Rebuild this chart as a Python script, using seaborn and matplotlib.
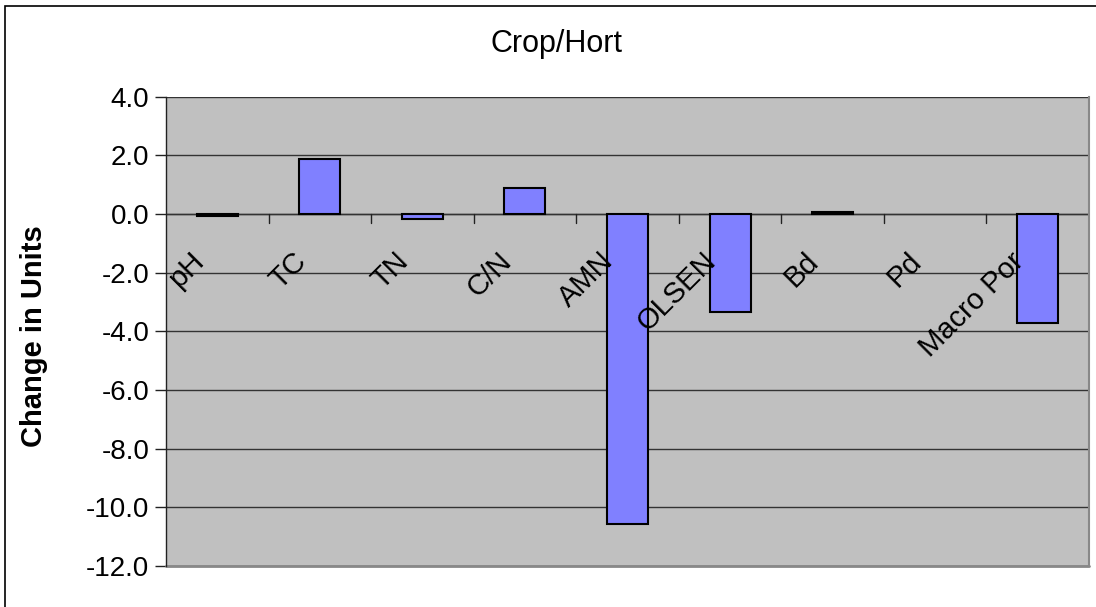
import numpy as np
import pandas as pd
import matplotlib
matplotlib.use("Agg")
import matplotlib.pyplot as plt
import seaborn as sns
from matplotlib.patches import Rectangle
from matplotlib.ticker import FormatStrFormatter, MultipleLocator

# values
categories = ["pH", "TC", "TN", "C/N", "AMN", "OLSEN", "Bd", "Pd", "Macro Por"]
changes = [-0.08, 1.89, -0.17, 0.88, -10.58, -3.35, 0.07, 0.0, -3.71]

sns.set_style("white")
plt.rcParams["font.family"] = ["Liberation Sans", "DejaVu Sans"]
plt.rcParams["text.color"] = "black"
plt.rcParams["axes.labelcolor"] = "black"
plt.rcParams["ytick.color"] = "black"

df = pd.DataFrame({"param": categories, "change": changes})

fig = plt.figure(figsize=(10.96, 6.07), dpi=100)
ax = fig.add_axes([166 / 1096, 1 - 566 / 607, 923 / 1096, (566 - 96.7) / 607])
ax.set_facecolor("#C0C0C0")

sns.barplot(data=df, x="param", y="change", order=categories, color="#8080FF",
            saturation=1, edgecolor="black", linewidth=1.5, width=0.4, ax=ax, zorder=3)
# excel draws nothing for a zero value
for p in ax.patches:
    if p.get_height() == 0:
        p.set_visible(False)

ax.set_ylim(-12, 4)
ax.set_xlim(-0.5, len(categories) - 0.5)
ax.yaxis.set_major_locator(MultipleLocator(2))
ax.yaxis.set_major_formatter(FormatStrFormatter("%.1f"))
ax.grid(axis="y", color="#333333", linewidth=1, zorder=0)
ax.set_axisbelow(True)

# x axis sits on zero like excel
ax.spines["bottom"].set_visible(False)
ax.spines["top"].set_visible(False)
ax.axhline(0, color="#333333", linewidth=1, zorder=2)
ax.spines["right"].set_color("#888888")
ax.spines["right"].set_linewidth(1.5)
ax.spines["left"].set_color("#222222")
ax.spines["left"].set_linewidth(1)
ax.plot([0, 1], [0, 0], transform=ax.transAxes, color="#888888", lw=2, clip_on=False)

ax.tick_params(axis="y", direction="out", length=8, width=1, color="#222222",
               labelsize=20, pad=4, left=True)
ax.set_xticks(range(len(categories)))
ax.tick_params(axis="x", bottom=False, labelbottom=False)

# boundary tick marks below zero line
for b in np.arange(0.5, len(categories) - 0.5, 1.0):
    ax.plot([b, b], [0, -0.3], color="#222222", lw=1, zorder=2)

# rotated category labels hanging under the zero line
for i, name in enumerate(categories):
    ax.text(i - 0.08, -1.12, name, rotation=45, ha="right", va="top",
            fontsize=21, zorder=5)

ax.set_xlabel("")
ax.set_ylabel("Change in Units", fontsize=21, fontweight="bold")
ax.yaxis.set_label_coords(-0.128, 0.49)

fig.text(557 / 1096, 1 - 44 / 607, "Crop/Hort", ha="center", va="center", fontsize=22)

fig.patches.append(Rectangle((5 / 1096, -0.1), 1.2, 1 - 6 / 607 + 0.1,
                             transform=fig.transFigure, fill=False,
                             edgecolor="black", linewidth=1.2))

fig.savefig("out.png", dpi=100)
